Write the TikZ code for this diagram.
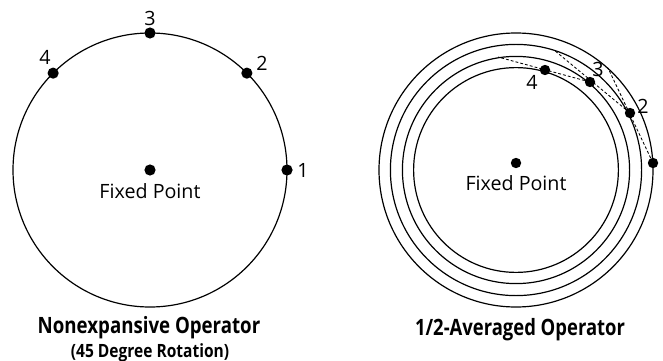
\documentclass[tikz,border=0pt]{standalone}
\usepackage{fontspec}
\usepackage{graphicx}
\setmainfont{Open Sans}
\usetikzlibrary{positioning}

\begin{document}
\begin{tikzpicture}[
		dot/.style={circle, fill=black, inner sep=0pt, minimum size=0.28cm},
		every node/.style={font=\fontsize{14}{16}\selectfont},
		heading/.style={font=\bfseries\fontsize{16}{19}\selectfont},
		subheading/.style={font=\bfseries\fontsize{13}{15}\selectfont},
		orbit/.style={line width=0.85pt},
		halfway/.style={dashed, line width=0.6pt, dash pattern=on 2pt off 1.5pt}
		]
		\useasboundingbox (0,0) rectangle (16.575,9);
		
		% Nonexpansive operator (left)
		\coordinate (O1) at (3.75,4.75);
		\draw[orbit] (O1) circle[radius=3.425];
		\begin{scope}[shift={(O1)}]
			\node[dot] (fpl) at (0,0) {};
			\node (fpltext) at (0,-0.53) {Fixed Point};
			\node[dot] (a1) at (0:3.425) {};
			\node[dot] (a2) at (45:3.425) {};
			\node[dot] (a3) at (90:3.425) {};
			\node[dot] (a4) at (135:3.425) {};
			\node (a1lab) at (3.825,0) {1};
			\node (a2lab) at (2.8,2.675) {2};
			\node (a3lab) at (0,3.8) {3};
			\node (a4lab) at (-2.625,2.825) {4};
		\end{scope}
		
		% 1/2-averaged operator (right)
		\coordinate (O2) at (12.9,4.75);
		\draw[orbit] (O2) circle[radius=3.425];
		\draw[orbit] (O2) circle[radius=3.14];
		\draw[orbit] (O2) circle[radius=2.84];
		\draw[orbit] (O2) circle[radius=2.56];
		\begin{scope}[shift={(O2)}]
			\node[dot, minimum size=0.26cm] (fpr) at (0,0.175) {};
			\node (fprtext) at (0,-0.33) {Fixed Point};
			% rotated images (45 degrees)
			\coordinate (r1) at (2.3,2.55);
			\coordinate (r2) at (0.95,3.0);
			\coordinate (r3) at (-0.45,2.825);
			\node[dot, minimum size=0.26cm] (b1) at (3.425,0.175) {};
			\node[dot, minimum size=0.26cm] (b2) at (2.85,1.425) {};
			\node[dot, minimum size=0.26cm] (b3) at (1.85,2.2) {};
			\node[dot, minimum size=0.26cm] (b4) at (0.725,2.5) {};
			\node (b2lab) at (3.175,1.6) {2};
			\node (b3lab) at (2.05,2.525) {3};
			\node (b4lab) at (0.4,2.2) {4};
		\end{scope}
		
		% averaging steps
		\draw[halfway] (b1) -- (r1);
		\draw[halfway] (b2) -- (r2);
		\draw[halfway] (b3) -- (r3);
		
		% Titles
		\node[heading] (lefttitle) at (3.725,0.82) {\scalebox{0.83}[1]{Nonexpansive Operator}};
		\node[subheading] (leftsub) at (3.75,0.18) {\scalebox{0.85}[1]{(45 Degree Rotation)}};
		\node[heading] (righttitle) at (13.0,0.75) {\scalebox{0.82}[1]{1/2-Averaged Operator}};
		
	\end{tikzpicture}
\end{document}
